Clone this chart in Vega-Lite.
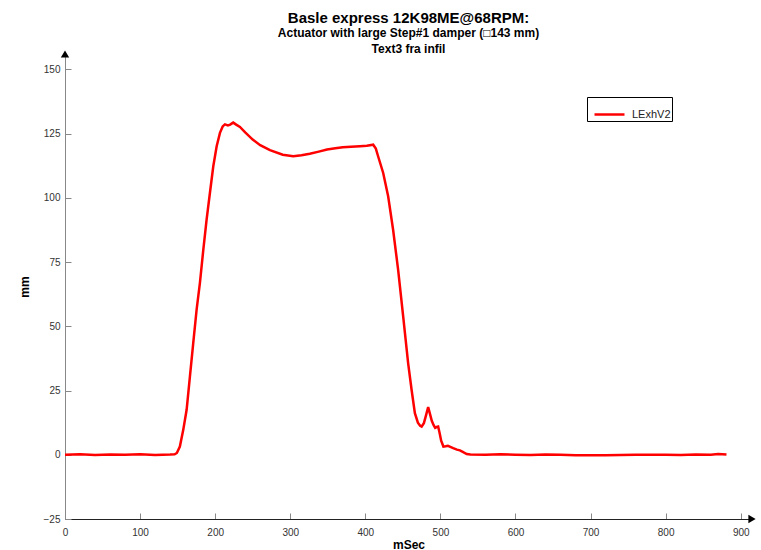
{
  "$schema": "https://vega.github.io/schema/vega-lite/v6.json",
  "autosize": "none",
  "width": 687,
  "height": 465,
  "padding": {"left": 65, "top": 54, "right": 9, "bottom": 31},
  "background": "white",
  "config": {
    "view": {"stroke": null},
    "font": "Liberation Sans",
    "axis": {"grid": false}
  },
  "title": {
    "text": "Basle express 12K98ME@68RPM:",
    "subtitle": ["Actuator with large Step#1 damper (□143 mm)", "Text3 fra infil"],
    "anchor": "middle",
    "font": "Liberation Sans",
    "fontSize": 15,
    "fontWeight": "bold",
    "color": "black",
    "subtitleFont": "Liberation Sans",
    "subtitleFontSize": 12,
    "subtitleFontWeight": "bold",
    "subtitleColor": "black",
    "subtitleLineHeight": 16,
    "subtitlePadding": 2,
    "offset": -5
  },
  "datasets": {
    "trace": [
      {"t": 0, "v": 0.0}, {"t": 20, "v": 0.2}, {"t": 40, "v": -0.1}, {"t": 60, "v": 0.1},
      {"t": 80, "v": 0.0}, {"t": 100, "v": 0.2}, {"t": 120, "v": -0.1}, {"t": 140, "v": 0.1},
      {"t": 146, "v": 0.2}, {"t": 149, "v": 0.7}, {"t": 153, "v": 3.2}, {"t": 157.5, "v": 9.7},
      {"t": 162, "v": 17.5}, {"t": 166.4, "v": 30.5}, {"t": 170.8, "v": 43.5}, {"t": 175.3, "v": 56.5},
      {"t": 179.7, "v": 66.9}, {"t": 184.2, "v": 79.8}, {"t": 188.6, "v": 91.5}, {"t": 193, "v": 101.9},
      {"t": 197.5, "v": 112.3}, {"t": 202, "v": 120.1}, {"t": 206.4, "v": 125.3}, {"t": 210, "v": 127.8},
      {"t": 213, "v": 128.6}, {"t": 217, "v": 128.2}, {"t": 220, "v": 128.5}, {"t": 224, "v": 129.3},
      {"t": 228, "v": 128.5}, {"t": 233, "v": 127.6}, {"t": 240, "v": 125.5}, {"t": 250, "v": 122.7},
      {"t": 260, "v": 120.5}, {"t": 273, "v": 118.6}, {"t": 290, "v": 116.8}, {"t": 304, "v": 116.2},
      {"t": 315, "v": 116.6}, {"t": 326, "v": 117.2}, {"t": 338, "v": 118.0}, {"t": 349, "v": 118.8},
      {"t": 360, "v": 119.3}, {"t": 370, "v": 119.7}, {"t": 381, "v": 119.9}, {"t": 393, "v": 120.1},
      {"t": 402, "v": 120.3}, {"t": 410.5, "v": 120.7}, {"t": 414, "v": 119.2}, {"t": 417, "v": 116.2},
      {"t": 423.8, "v": 109.7}, {"t": 430.4, "v": 100.6}, {"t": 437, "v": 87.6}, {"t": 443.7, "v": 72},
      {"t": 450.4, "v": 53.9}, {"t": 457, "v": 35.7}, {"t": 461.6, "v": 25.3}, {"t": 466, "v": 16.2},
      {"t": 470, "v": 12.5}, {"t": 473, "v": 11.3}, {"t": 475, "v": 11}, {"t": 478, "v": 12.3},
      {"t": 481, "v": 15.5}, {"t": 483.7, "v": 18.6}, {"t": 486, "v": 16}, {"t": 488.5, "v": 13.2},
      {"t": 491, "v": 11.5}, {"t": 493, "v": 10.5}, {"t": 495, "v": 10.8}, {"t": 497, "v": 11},
      {"t": 499, "v": 8.4}, {"t": 501, "v": 5.5}, {"t": 504, "v": 3.2}, {"t": 507, "v": 3.3},
      {"t": 510, "v": 3.5}, {"t": 514, "v": 3}, {"t": 517, "v": 2.6}, {"t": 522, "v": 2},
      {"t": 526, "v": 1.7}, {"t": 531, "v": 0.9}, {"t": 535, "v": 0.3}, {"t": 540, "v": 0.1},
      {"t": 560, "v": 0.0}, {"t": 580, "v": 0.2}, {"t": 600, "v": 0.0}, {"t": 620, "v": -0.1},
      {"t": 640, "v": 0.1}, {"t": 660, "v": 0.0}, {"t": 680, "v": -0.2}, {"t": 700, "v": -0.2},
      {"t": 720, "v": -0.2}, {"t": 740, "v": -0.1}, {"t": 760, "v": 0.0}, {"t": 780, "v": 0.0},
      {"t": 800, "v": 0.0}, {"t": 820, "v": -0.1}, {"t": 840, "v": 0.1}, {"t": 860, "v": 0.0},
      {"t": 870, "v": 0.3}, {"t": 881, "v": 0.1}
    ],
    "arrows": [
      {"t": 915, "v": -25, "dir": "triangle-right"},
      {"t": 0, "v": 156, "dir": "triangle-up"}
    ]
  },
  "layer": [
    {
      "data": {"name": "trace"},
      "transform": [{"calculate": "'LExhV2'", "as": "series"}],
      "mark": {"type": "line", "strokeWidth": 2.5, "clip": true},
      "encoding": {
        "x": {
          "field": "t", "type": "quantitative",
          "scale": {"domain": [0, 915], "nice": false, "zero": false},
          "axis": {
            "title": "mSec", "titleFontSize": 12, "titleFontWeight": "bold", "titleColor": "black",
            "titlePadding": 2,
            "values": [0, 100, 200, 300, 400, 500, 600, 700, 800, 900],
            "labelFont": "Liberation Sans Narrow, Liberation Sans", "labelFontSize": 10, "labelColor": "#333333",
            "domainColor": "#222222", "domainWidth": 1,
            "tickColor": "#888888", "tickSize": -6, "tickWidth": 1, "labelPadding": 14,
            "labelFlush": false
          }
        },
        "y": {
          "field": "v", "type": "quantitative",
          "scale": {"domain": [-25, 156], "nice": false, "zero": false},
          "axis": {
            "title": "mm", "titleFontSize": 12, "titleFontWeight": "bold", "titleColor": "black",
            "titlePadding": 12,
            "values": [-25, 0, 25, 50, 75, 100, 125, 150],
            "labelFont": "Liberation Sans Narrow, Liberation Sans", "labelFontSize": 10, "labelColor": "#333333",
            "domainColor": "#888888", "domainWidth": 1,
            "tickColor": "#888888", "tickSize": -6, "tickWidth": 1, "labelPadding": 11,
            "labelFlush": false
          }
        },
        "color": {
          "field": "series", "type": "nominal",
          "scale": {"domain": ["LExhV2"], "range": ["#ff0000"]},
          "legend": {
            "title": null,
            "orient": "none", "legendX": 522, "legendY": 43,
            "strokeColor": "black", "fillColor": "white", "padding": 1,
            "symbolOffset": 5,
            "symbolType": "stroke", "symbolStrokeWidth": 2.5, "symbolSize": 900,
            "labelFont": "Liberation Sans", "labelFontSize": 11, "labelColor": "#222222",
            "labelOffset": 6
          }
        }
      }
    },
    {
      "data": {"name": "arrows"},
      "mark": {"type": "point", "filled": true, "color": "black", "size": 70, "opacity": 1, "clip": false},
      "encoding": {
        "x": {"field": "t", "type": "quantitative"},
        "y": {"field": "v", "type": "quantitative"},
        "shape": {"field": "dir", "type": "nominal", "scale": null, "legend": null}
      }
    }
  ]
}
